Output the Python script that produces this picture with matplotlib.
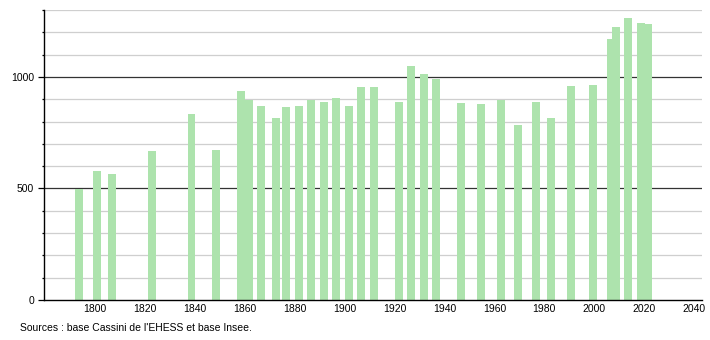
import matplotlib as mpl
import matplotlib.pyplot as plt
from matplotlib.ticker import MultipleLocator

mpl.rc('font', family=['Liberation Sans', 'DejaVu Sans'], size=7.5)

# census years and population
years = [1793, 1800, 1806, 1822, 1838, 1848, 1858, 1861, 1866, 1872,
         1876, 1881, 1886, 1891, 1896, 1901, 1906, 1911, 1921, 1926,
         1931, 1936, 1946, 1954, 1962, 1969, 1976, 1982, 1990, 1999,
         2006, 2008, 2013, 2018, 2021]
population = [497, 579, 566, 666, 835, 674, 935, 898, 871, 817,
              865, 871, 898, 889, 906, 871, 955, 955, 889, 1051,
              1015, 991, 883, 880, 898, 786, 889, 817, 961, 965,
              1172, 1224, 1266, 1241, 1236]
xticks = list(range(1800, 2041, 20))
source = "Sources : base Cassini de l'EHESS et base Insee."

bar_col = '#ade3ad'

fig = plt.figure(figsize=(7.1, 3.4), dpi=100)
ax = fig.add_axes([0.062, 0.1176, 0.9268, 0.853])

ax.bar([y + 0.6 for y in years], population, width=3.2, color=bar_col,
       linewidth=0, zorder=3)

ax.set_xlim(1779.5, 2043.2)
ax.set_ylim(0, 1300)

# grid: light every 100, dark at 500 / 1000
for v in range(100, 1301, 100):
    if v % 500 == 0:
        ax.axhline(v, color='#333333', lw=0.9, zorder=1)
    else:
        ax.axhline(v, color='#cfcfcf', lw=0.9, zorder=1)

ax.yaxis.set_major_locator(MultipleLocator(500))
ax.yaxis.set_minor_locator(MultipleLocator(100))
ax.tick_params(axis='y', which='major', length=4, width=0.9, pad=3)
ax.tick_params(axis='y', which='minor', length=1.5, width=0.9)
ax.set_xticks(xticks)
ax.tick_params(axis='x', length=0, pad=3)

for s in ['top', 'right']:
    ax.spines[s].set_visible(False)
ax.spines['left'].set_linewidth(1.0)
ax.spines['bottom'].set_linewidth(1.0)
ax.spines['left'].set_zorder(4)
ax.spines['bottom'].set_zorder(4)

fig.text(20 / 710, 1 - 328 / 340, source, fontsize=7.5, va='center', ha='left')

fig.savefig('out.png', dpi=100)
